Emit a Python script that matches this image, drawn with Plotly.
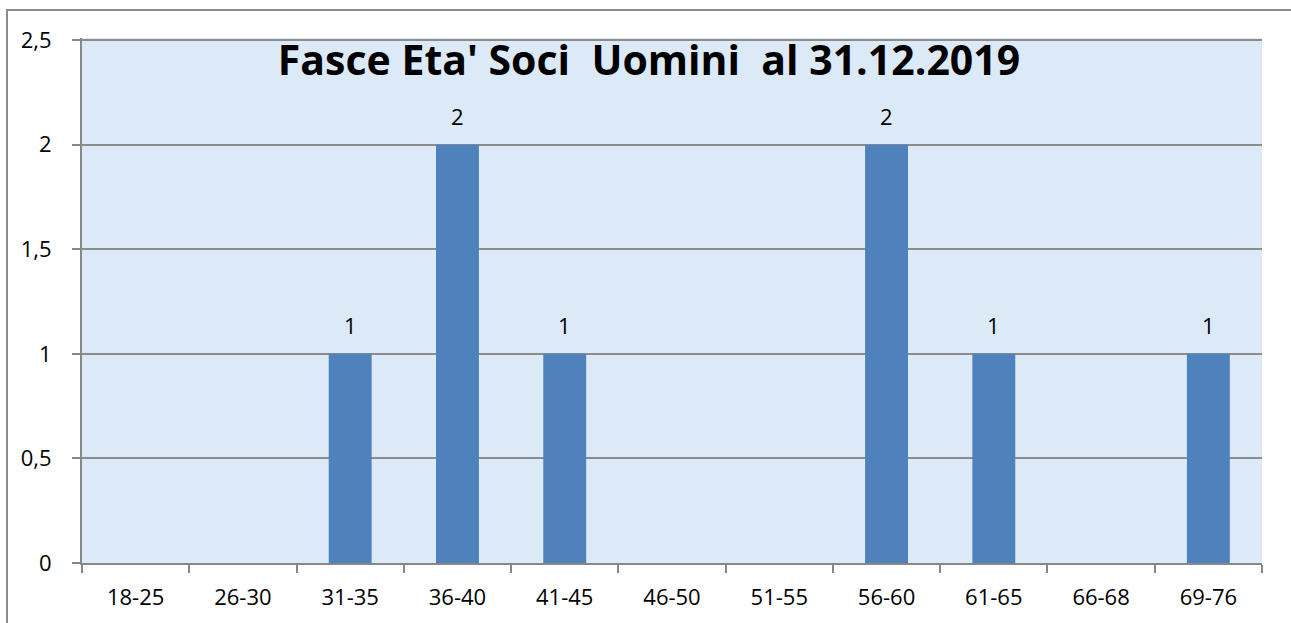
import plotly.graph_objects as go

# fasce d'eta' e numero di soci uomini
fasce = ["18-25", "26-30", "31-35", "36-40", "41-45", "46-50",
         "51-55", "56-60", "61-65", "66-68", "69-76"]
soci = [0, 0, 1, 2, 1, 0, 0, 2, 1, 0, 1]

W, H = 1291, 623
ml, mr, mt, mb = 82, 29, 38, 60
pw, ph = W - ml - mr, H - mt - mb

fig = go.Figure()
fig.add_trace(go.Bar(
    x=fasce, y=soci,
    marker=dict(color="#4f81bd", line=dict(width=0)),
))

# etichette dei valori sopra le barre (solo valori > 0)
for f, v in zip(fasce, soci):
    if v > 0:
        fig.add_annotation(x=f, y=v, text=str(v), showarrow=False,
                           yanchor="bottom", yshift=12,
                           font=dict(size=22, color="#000000", family="Open Sans"))

fig.update_layout(
    width=W, height=H,
    margin=dict(l=ml, r=mr, t=mt, b=mb),
    paper_bgcolor="white",
    plot_bgcolor="#dce9f7",
    bargap=0.6,
    showlegend=False,
    separators=",.",
    font=dict(family="Open Sans", size=22, color="#000000"),
    title=dict(text="<b>Fasce Eta' Soci  Uomini  al 31.12.2019</b>",
               xref="paper", x=(649 - ml) / pw, xanchor="center",
               y=1 - 61 / H, yanchor="middle",
               font=dict(size=41, family="Open Sans", color="#000000")),
    xaxis=dict(showgrid=False, showline=True, linecolor="#878787", linewidth=2,
               ticks="outside", tickson="boundaries", ticklen=8, tickcolor="#878787",
               tickwidth=2, ticklabelstandoff=14, tickfont=dict(size=22)),
    yaxis=dict(range=[0, 2.51], tickvals=[0, 0.5, 1, 1.5, 2, 2.5],
               showgrid=True, gridcolor="#8c8c8c",
               gridwidth=2, showline=True, linecolor="#878787", linewidth=2,
               ticks="outside", ticklen=8, tickcolor="#878787", tickwidth=2,
               zeroline=False, ticklabelstandoff=16, tickfont=dict(size=22)),
    shapes=[dict(type="rect", xref="paper", yref="paper",
                 x0=(7 - ml) / pw, x1=(1300 - ml) / pw,
                 y0=-0.3, y1=1 + (mt - 10) / ph,
                 line=dict(color="#8c8c8c", width=2), layer="below")],
)

fig.write_html("out.html", config={"displayModeBar": False},
               post_script="document.body.style.margin='0';")
